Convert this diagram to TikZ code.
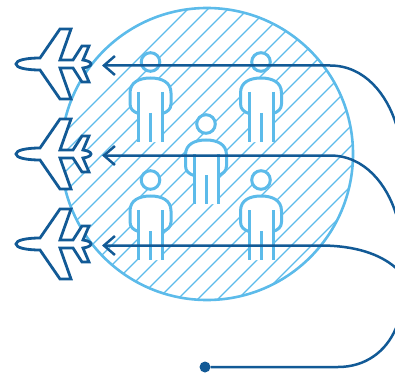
\documentclass[tikz,border=0pt]{standalone}
\usetikzlibrary{arrows.meta}
\definecolor{navy}{HTML}{125A96}
\definecolor{sky}{HTML}{5CBBEA}
\tikzset{
  hatchline/.style={draw=sky,line width=1.3pt},
  ringline/.style={draw=sky,line width=2.6pt},
  personline/.style={draw=sky,line width=3pt,fill=white},
  limbline/.style={draw=sky,line width=3pt},
  planeline/.style={draw=navy,line width=2.8pt,fill=white,line join=miter},
  route/.style={draw=navy,line width=2.5pt},
  arrowroute/.style={route,{Straight Barb[length=11pt,width=19pt,line width=2.5pt]}-},
  startdot/.style={circle,fill=navy,inner sep=0pt,minimum size=11pt},
  person/.pic={
    \path[personline] (0,0) circle (9.3);
    \path[fill=white] (-12,51.5) .. controls (-17,50) and (-20.5,47) .. (-20.5,42)
      -- (-20.5,31) .. controls (-20.5,20) and (-11,16) .. (0,16)
      .. controls (11,16) and (20.5,20) .. (20.5,31) -- (20.5,42)
      .. controls (20.5,47) and (17,50) .. (12,51.5) -- (12,80) -- (-12,80) -- cycle;
    \path[limbline] (-12,51.5) .. controls (-17,50) and (-20.5,47) .. (-20.5,42)
      -- (-20.5,31) .. controls (-20.5,20) and (-11,16) .. (0,16)
      .. controls (11,16) and (20.5,20) .. (20.5,31) -- (20.5,42)
      .. controls (20.5,47) and (17,50) .. (12,51.5);
    \path[limbline] (-12,30) -- (-12,80) (12,30) -- (12,80) (0,51) -- (0,80);
  },
  plane/.pic={
    \path[planeline] (0,0) .. controls (0,-3.5) and (9,-6) .. (24,-6)
      -- (44,-35) -- (55,-35) -- (44,-4) -- (57,-4) -- (66,-18) -- (73,-18)
      -- (67,-4) .. controls (71,-3.5) and (75,-2) .. (75,0)
      .. controls (75,2) and (71,3.5) .. (67,4) -- (73,18) -- (66,18)
      -- (57,4) -- (44,4) -- (55,35) -- (44,35) -- (24,6)
      .. controls (9,6) and (0,3.5) .. (0,0) -- cycle;
  }
}
\begin{document}
\begin{tikzpicture}[x=1pt,y=-1pt]
\useasboundingbox (0,0) rectangle (395,374);
\clip (0,0) rectangle (395,374);
\begin{scope}
  \clip (207,154) circle (146);
  \foreach \c in {197,217,...,577}
    \path[hatchline] (\c-320,320) -- (\c,0);
\end{scope}
\path[ringline] (207,154) circle (146);
\pic at (150.5,62) {person};
\pic at (261,62) {person};
\pic at (206,124) {person};
\pic at (150.5,180) {person};
\pic at (261,180) {person};
\pic at (16,64) {plane};
\pic at (16,154) {plane};
\pic at (16,244) {plane};
\coordinate (tipA) at (102,65.5);
\coordinate (tipB) at (102,155.5);
\coordinate (tipC) at (102,245.5);
\coordinate (bendA) at (330,65.5);
\coordinate (bendB) at (330,155.5);
\coordinate (bendC) at (320,245.5);
\coordinate (bendD) at (338,367);
\coordinate (offA) at (396,124);
\coordinate (offB) at (396,214);
\coordinate (offC) at (396,268);
\coordinate (offD) at (396,328);
\node[startdot] (start) at (205,367) {};
\draw[arrowroute] (tipA) -- (bendA) .. controls (365,65.5) and (387,95) .. (offA);
\draw[arrowroute] (tipB) -- (bendB) .. controls (365,155.5) and (387,185) .. (offB);
\draw[arrowroute] (tipC) -- (bendC) .. controls (355,245.5) and (380,254) .. (offC);
\draw[route] (start) -- (bendD) .. controls (365,367) and (386,352) .. (offD);
\end{tikzpicture}
\end{document}
